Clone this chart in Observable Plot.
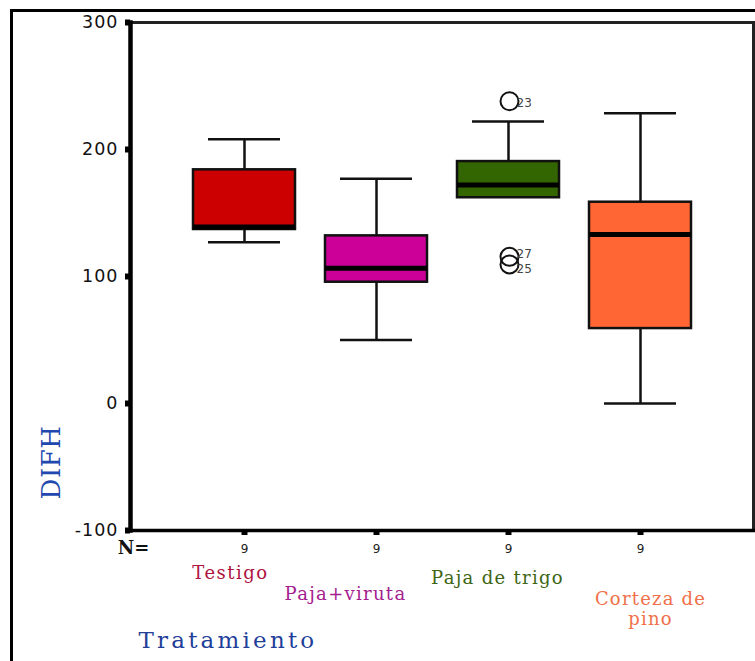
<!DOCTYPE html>
<html>
<head>
<meta charset="utf-8">
<script src="https://cdn.jsdelivr.net/npm/d3@7"></script>
<script src="https://cdn.jsdelivr.net/npm/@observablehq/plot@0.6"></script>
<style>
  html, body { margin: 0; padding: 0; background: #fff; }
  #chart { position: relative; width: 755px; height: 661px; }
</style>
</head>
<body>
<div id="chart"></div>
<script>
// ---- data ----
const categories = ["Testigo", "Paja+viruta", "Paja de trigo", "Corteza de pino"];
const lowWhisker = [127, 50, 162, 0];
const q1 = [137, 95.5, 162, 59];
const median = [139, 106.5, 172, 133];
const q3 = [184, 132, 190.5, 158.5];
const highWhisker = [208, 177, 222, 228.5];
const counts = [9, 9, 9, 9];
const outlierCategory = ["Paja de trigo", "Paja de trigo", "Paja de trigo"];
const outlierValues = [238, 115.5, 109.5];
const outlierLabels = ["23", "27", "25"];
const yTicks = [-100, 0, 100, 200, 300];

const boxColors = ["#cc0000", "#cc0099", "#336600", "#ff6633"];
const labelColors = ["#b0123f", "#a3208e", "#3d6614", "#f0704a"];

const table = categories.map((c, i) => ({
  cat: c, lo: lowWhisker[i], q1: q1[i], med: median[i], q3: q3[i], hi: highWhisker[i],
  n: counts[i], color: boxColors[i]
}));
const outliers = outlierValues.map((v, i) => ({cat: outlierCategory[i], v, label: outlierLabels[i]}));

// label placement (px offsets from the bottom of the frame)
const labelOffsets = [
  {dx: -14, dy: 42},
  {dx: -31, dy: 63},
  {dx: -11, dy: 47},
  {dx: 10, dy: 78}
];
const labelText = ["Testigo", "Paja+viruta", "Paja de trigo", "Corteza de\npino"];
const outlierDy = [2, -3, 5];

const serif = "'DejaVu Serif', serif";
const sans = "'DejaVu Sans', sans-serif";

const marks = [
  // whiskers
  Plot.ruleX(table, {x: "cat", y1: "q3", y2: "hi", stroke: "#111", strokeWidth: 2.5}),
  Plot.ruleX(table, {x: "cat", y1: "lo", y2: "q1", stroke: "#111", strokeWidth: 2.5}),
  Plot.tickY(table, {x: "cat", y: "hi", stroke: "#111", strokeWidth: 2.5, insetLeft: 15, insetRight: 15}),
  Plot.tickY(table.filter(d => d.lo < d.q1), {x: "cat", y: "lo", stroke: "#111", strokeWidth: 2.5, insetLeft: 15, insetRight: 15}),
  // boxes
  Plot.barY(table, {x: "cat", y1: "q1", y2: "q3", fill: "color", stroke: "#111", strokeWidth: 2.5}),
  Plot.tickY(table, {x: "cat", y: "med", stroke: "#000", strokeWidth: 5}),
  // outliers
  Plot.dot(outliers, {x: "cat", y: "v", r: 9, stroke: "#111", strokeWidth: 2, fill: "none", dx: 1})
];
outliers.forEach((o, i) => {
  marks.push(Plot.text([o], {x: "cat", y: "v", text: "label", dx: 8, dy: outlierDy[i], textAnchor: "start", fontSize: 12, fill: "#444", fontFamily: sans}));
});
marks.push(
  // axes
  Plot.axisY({ticks: yTicks, tickSize: 5, tickPadding: 7, strokeWidth: 6, fontSize: 17.5, fontFamily: sans, fill: "#111", label: null,
    tickFormat: d => String(d)}),
  Plot.axisX({tickSize: 5, tickPadding: 9, strokeWidth: 6, fontSize: 12, fontFamily: sans, fill: "#222", label: null,
    tickFormat: d => String(counts[categories.indexOf(d)])}),
  Plot.frame({stroke: "#222", strokeWidth: 3}),
  Plot.frame({anchor: "left", stroke: "#000", strokeWidth: 4.5}),
  Plot.frame({anchor: "bottom", stroke: "#000", strokeWidth: 3.5}),
  // N=
  Plot.text(["N="], {frameAnchor: "bottom-left", textAnchor: "middle", lineAnchor: "middle", dx: 3, dy: 18, fontSize: 18, fontWeight: "bold", fontFamily: serif, fill: "#111"}),
  // axis titles
  Plot.text(["Tratamiento"], {frameAnchor: "bottom-left", textAnchor: "start", lineAnchor: "middle", dx: 8, dy: 110, fontSize: 23, fontFamily: serif, fill: "#1f3f9a"}),
  Plot.text(["DIFH"], {frameAnchor: "left", textAnchor: "middle", lineAnchor: "middle", dx: -79, dy: 186, rotate: -90, fontSize: 26, fontFamily: serif, fill: "#2148ae"})
);

// category labels
categories.forEach((c, i) => {
  marks.push(Plot.text([c], {
    x: d => d, frameAnchor: "bottom", text: () => labelText[i], textAnchor: "middle", lineAnchor: "middle",
    dx: labelOffsets[i].dx, dy: labelOffsets[i].dy,
    fontSize: 18, fontFamily: serif, fill: labelColors[i], lineHeight: 1.15
  }));
});

const chart = Plot.plot({
  width: 755,
  height: 661,
  marginLeft: 130,
  marginRight: 2,
  marginTop: 22,
  marginBottom: 131,
  style: {background: "#fff", overflow: "visible"},
  x: {domain: categories, paddingInner: 0.23, paddingOuter: 0.462, axis: null},
  y: {domain: [-100, 300], axis: null},
  marks
});

const svg = d3.select(chart);
// letter spacing for the wide lettering of the original
const spacing = new Map([
  ["Tratamiento", "3.2px"], ["Testigo", "1.5px"], ["Paja+viruta", "1.3px"], ["Paja de trigo", "1.3px"],
  ["Corteza depino", "1.2px"], ["DIFH", "0.5px"]
]);
svg.selectAll("text").each(function() {
  const s = spacing.get(this.textContent);
  if (s) this.setAttribute("letter-spacing", s);
});
svg.selectAll("g[aria-label='y-axis tick label'] text").attr("letter-spacing", "1px");

// outer frame of the figure
svg.append("line").attr("x1", 11).attr("x2", 755).attr("y1", 10.5).attr("y2", 10.5).attr("stroke", "#000").attr("stroke-width", 3);
svg.append("line").attr("x1", 11.5).attr("x2", 11.5).attr("y1", 9).attr("y2", 661).attr("stroke", "#000").attr("stroke-width", 3);

document.getElementById("chart").appendChild(chart);
</script>
</body>
</html>
